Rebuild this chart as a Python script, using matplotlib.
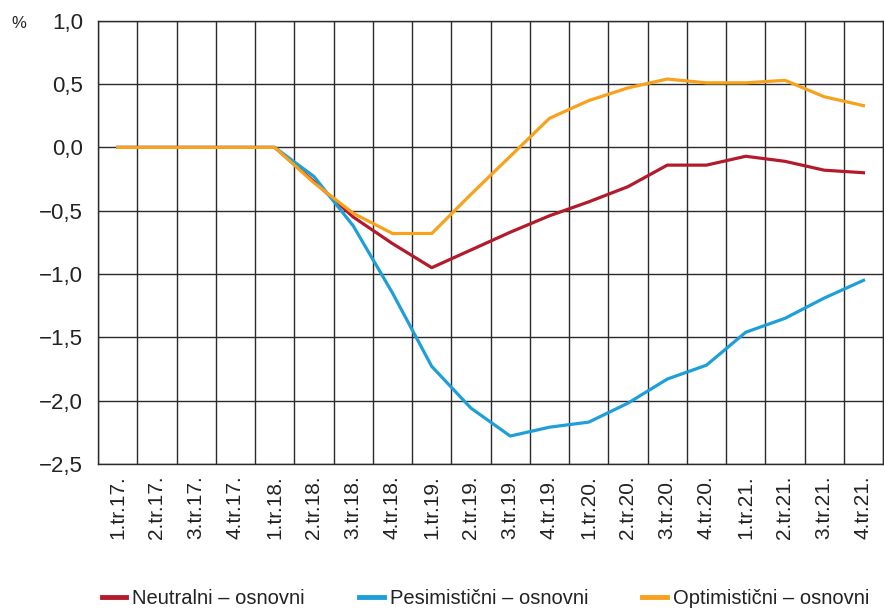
import matplotlib.pyplot as plt
import numpy as np

quarters = ['1.tr.17.', '2.tr.17.', '3.tr.17.', '4.tr.17.',
            '1.tr.18.', '2.tr.18.', '3.tr.18.', '4.tr.18.',
            '1.tr.19.', '2.tr.19.', '3.tr.19.', '4.tr.19.',
            '1.tr.20.', '2.tr.20.', '3.tr.20.', '4.tr.20.',
            '1.tr.21.', '2.tr.21.', '3.tr.21.', '4.tr.21.']
neutral = [0, 0, 0, 0, 0, -0.27, -0.55, -0.76, -0.95, -0.81, -0.67, -0.54,
           -0.43, -0.31, -0.14, -0.14, -0.07, -0.11, -0.18, -0.20]
pessimistic = [0, 0, 0, 0, 0, -0.23, -0.62, -1.15, -1.73, -2.06, -2.28, -2.21,
               -2.17, -2.02, -1.83, -1.72, -1.46, -1.35, -1.19, -1.05]
optimistic = [0, 0, 0, 0, 0, -0.28, -0.52, -0.68, -0.68, -0.37, -0.07, 0.23,
              0.37, 0.47, 0.54, 0.51, 0.51, 0.53, 0.40, 0.33]
yticks = [1.0, 0.5, 0.0, -0.5, -1.0, -1.5, -2.0, -2.5]
labels = ['Neutralni – osnovni', 'Pesimistični – osnovni', 'Optimistični – osnovni']
colors = ['#B31B2C', '#1E9FD8', '#F7A11C']

plt.rcParams['font.family'] = ['Liberation Sans', 'DejaVu Sans']

fig = plt.figure(figsize=(8.84, 6.12), dpi=100)
ax = fig.add_axes([0.111, 0.242, 0.888, 0.724])

x = np.arange(len(quarters))
for series, lab, col in zip([neutral, pessimistic, optimistic], labels, colors):
    ax.plot(x, series, color=col, lw=2.3, label=lab, solid_joinstyle='round')

ax.set_xlim(-0.5, len(quarters) - 0.5)
ax.set_ylim(-2.5, 1.0)
ax.set_yticks(yticks)
ax.set_yticklabels([f'{v:.1f}'.replace('.', ',').replace('-', '\u2212') for v in yticks],
                   fontsize=16, color='#222222')
ax.set_xticks(x)
ax.set_xticklabels(quarters, rotation=90, fontsize=15, color='#222222')
ax.set_xticks(np.arange(-0.5, len(quarters), 1), minor=True)
ax.tick_params(axis='both', which='both', length=0)
ax.tick_params(axis='y', pad=11)
ax.tick_params(axis='x', pad=8)
ax.grid(True, which='minor', axis='x', color='#2a2a2a', lw=1.0)
ax.grid(True, which='major', axis='y', color='#2a2a2a', lw=1.0)
for s in ax.spines.values():
    s.set_color('#2a2a2a')
    s.set_linewidth(1.0)

fig.text(0.013, 0.955, '%', fontsize=12, color='#222222')

leg = fig.legend(loc='lower left', bbox_to_anchor=(0.111, 0.0), ncol=3,
                 frameon=False, handlelength=1.2, handletextpad=0.3,
                 columnspacing=2.7, borderaxespad=0.0, borderpad=0.2,
                 prop={'size': 14.5})
for line in leg.get_lines():
    line.set_linewidth(3.5)
for t in leg.get_texts():
    t.set_color('#222222')

fig.savefig('out.png', dpi=100)
